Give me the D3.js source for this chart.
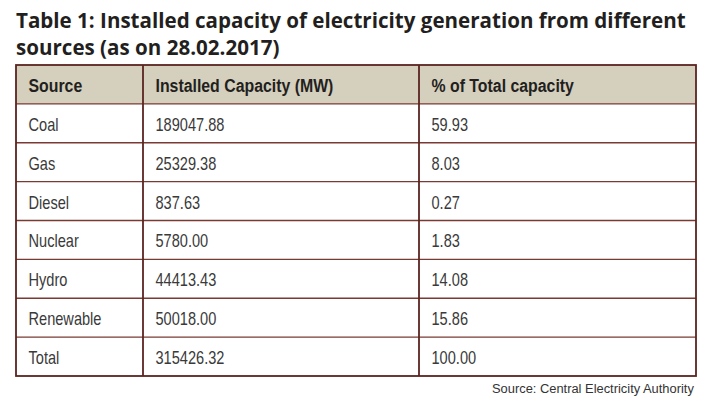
<!DOCTYPE html>
<html><head><meta charset="utf-8">
<script src="https://cdn.jsdelivr.net/npm/d3@7"></script>
<style>
html,body{margin:0;padding:0;background:#fff;}
svg{display:block;}
</style></head>
<body>
<svg id="chart" width="708" height="404"></svg>
<script>
const titleLines = ["Table 1: Installed capacity of electricity generation from different", "sources (as on 28.02.2017)"];
const headers = ["Source", "Installed Capacity (MW)", "% of Total capacity"];
const sources = ["Coal", "Gas", "Diesel", "Nuclear", "Hydro", "Renewable", "Total"];
const capacities = ["189047.88", "25329.38", "837.63", "5780.00", "44413.43", "50018.00", "315426.32"];
const percents = ["59.93", "8.03", "0.27", "1.83", "14.08", "15.86", "100.00"];
const sourceNote = "Source: Central Electricity Authority";

const svg = d3.select("#chart");
const tableLeft = 16, tableRight = 696, tableTop = 65, tableBottom = 376;
const colEdges = [16, 143, 419, 696];
const border = "#5a2420", rowLine = "#7a3a33", headFill = "#d5cfbd", textCol = "#3a3a3a";
const bodyFont = "'Liberation Sans','Arial',sans-serif";
const titleFont = "'Open Sans',sans-serif";

// title (horizontally fitted)
const tfs = 21.5;
function titleText(txt, yb, targetW) {
  const t = svg.append("text").attr("font-family", titleFont).attr("font-weight", 700)
    .attr("font-size", tfs).attr("fill", "#231f20").text(txt);
  return t;
}
const t1 = titleText(titleLines[0]);
const kt = 670 / t1.node().getComputedTextLength();
t1.attr("transform", `translate(16,28) scale(${kt},1)`);
const t2 = titleText(titleLines[1]);
t2.attr("transform", `translate(16,55) scale(${kt},1)`);

// scales
const rowKeys = ["header"].concat(sources);
const y = d3.scaleBand().domain(rowKeys).range([tableTop, tableBottom]).padding(0);
const x = d3.scaleOrdinal().domain([0,1,2]).range(colEdges.slice(0,3));

// header fill
svg.append("rect").attr("x", tableLeft).attr("y", y("header"))
  .attr("width", tableRight - tableLeft).attr("height", y.bandwidth()).attr("fill", headFill);

// row lines
svg.selectAll("line.row").data(sources).join("line")
  .attr("x1", tableLeft).attr("x2", tableRight)
  .attr("y1", d => y(d)).attr("y2", d => y(d))
  .attr("stroke", rowLine).attr("stroke-width", 1.3);

// column lines
svg.selectAll("line.col").data([1,2]).join("line")
  .attr("x1", d => colEdges[d]).attr("x2", d => colEdges[d])
  .attr("y1", tableTop).attr("y2", tableBottom)
  .attr("stroke", border).attr("stroke-width", 1.8);

// outer border
svg.append("rect").attr("x", tableLeft).attr("y", tableTop)
  .attr("width", tableRight - tableLeft).attr("height", tableBottom - tableTop)
  .attr("fill", "none").attr("stroke", border).attr("stroke-width", 1.8);

// measure body font horizontal scale (condensed look)
const fsz = 18;
const probe = svg.append("text").attr("font-family", bodyFont).attr("font-size", fsz).text("Renewable");
const kx = 73 / probe.node().getComputedTextLength();
probe.remove();
const probeB = svg.append("text").attr("font-family", bodyFont).attr("font-weight", 700).attr("font-size", fsz).text("Installed Capacity (MW)");
const kxb = 178 / probeB.node().getComputedTextLength();
probeB.remove();

function cellText(txt, col, rowKey, bold) {
  const k = bold ? kxb : kx;
  const tx = x(col) + 12.5, ty = y(rowKey) + y.bandwidth()/2 + 7.5;
  svg.append("text")
    .attr("transform", `translate(${tx},${ty}) scale(${k},1)`)
    .attr("font-family", bodyFont).attr("font-weight", bold ? 700 : 400)
    .attr("font-size", fsz).attr("fill", bold ? "#231f20" : textCol)
    .text(txt);
}
headers.forEach((h, i) => cellText(h, i, "header", true));
sources.forEach((s, i) => {
  cellText(s, 0, s, false);
  cellText(capacities[i], 1, s, false);
  cellText(percents[i], 2, s, false);
});

// source note
const sn = svg.append("text").attr("font-family", bodyFont).attr("font-size", 13.5)
  .attr("fill", "#333").text(sourceNote);
const ks = 202 / sn.node().getComputedTextLength();
sn.attr("transform", `translate(${694 - 202},${393}) scale(${ks},1)`);
</script>
</body></html>
